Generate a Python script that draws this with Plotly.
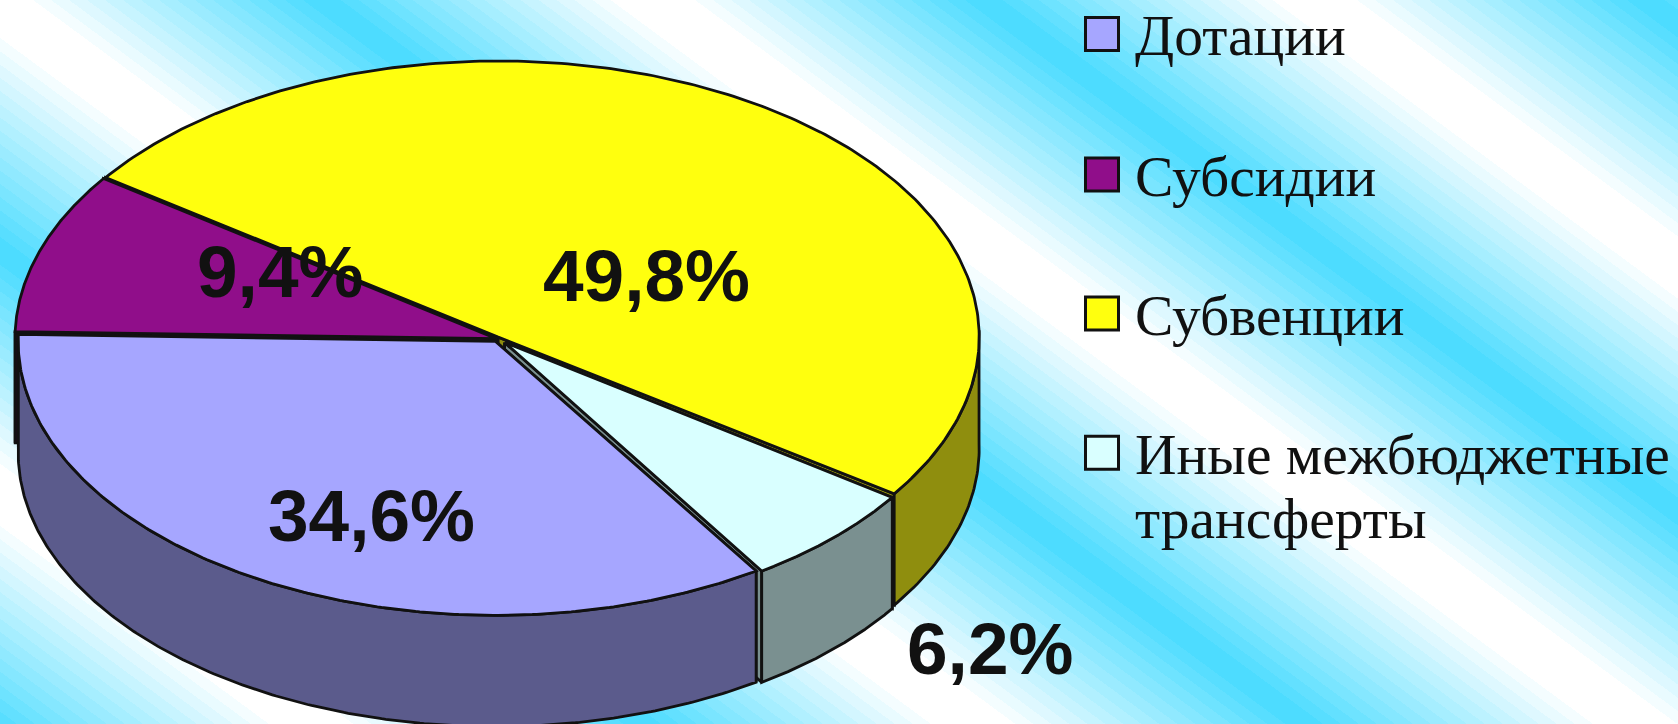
import numpy as np
import plotly.graph_objects as go

categories = ["Дотации", "Субсидии", "Субвенции", "Иные межбюджетные<br>трансферты"]
values = [34.6, 9.4, 49.8, 6.2]
labels = ["34,6%", "9,4%", "49,8%", "6,2%"]
top_colors = ["#A6A6FF", "#900E8A", "#FFFF0E", "#D9FFFF"]
side_colors = ["#5B5B8C", "#4A0846", "#8F8E0E", "#7A9090"]

W, H = 1678, 724
S = 1678 / 1568  # shrunk view to full size
INK = "#111111"
START = 303.1
DEPTH = 104 * S
# per-slice ellipse (centre x, centre y, rx, ry) in shrunk-view units
geom = [(463, 319, 446, 256), (464, 316.5, 450, 259), (465.5, 315, 449.5, 258), (471.5, 320, 440, 255)]
label_pos = [(347, 482), (262, 254), (604, 257), (925, 606)]
draw_order = [2, 1, 3, 0]

# angular extents, clockwise from the start
t1 = START - np.cumsum([0] + values[:-1]) * 3.6
t2 = t1 - np.array(values) * 3.6

fig = go.Figure()

# background: repeating diagonal banded gradient
xx, yy = np.meshgrid(np.arange(W), np.arange(H))
PERIOD, U0, SLOPE, STEPS = 662.0, 322.0, 0.737, 16
phase = ((xx - yy / SLOPE - U0) / PERIOD) % 1.0
tri = 1 - np.abs(2 * phase - 1)
level = np.clip((tri - 0.03) * 1.15, 0, 1)
z = (np.round(level * STEPS) * 10).astype(np.uint8)
fig.add_trace(go.Heatmap(z=z, x0=0.5, dx=1, y0=0.5, dy=1, zmin=0, zmax=STEPS * 10,
                         colorscale=[[0, "#4DDCFF"], [1, "#FFFFFF"]],
                         showscale=False, hoverinfo="skip"))


def ell(g, t):
    cx, cy, rx, ry = g
    r = np.radians(t)
    return (cx + rx * np.cos(r)) * S, (cy - ry * np.sin(r)) * S


def poly(x, y, color, name):
    fig.add_trace(go.Scatter(x=x, y=y, mode="lines", fill="toself", fillcolor=color,
                             line=dict(color=INK, width=2.8), name=name,
                             showlegend=False, hoverinfo="skip"))


for i in draw_order:
    g = geom[i]
    ax, ay = g[0] * S, g[1] * S
    ts = np.linspace(t1[i], t2[i], 240)
    ox, oy = ell(g, ts)
    # radial walls
    for e in (0, -1):
        poly([ax, ox[e], ox[e], ax, ax], [ay, oy[e], oy[e] + DEPTH, ay + DEPTH, ay],
             side_colors[i], categories[i])
    # outer wall, front half only
    m = np.sin(np.radians(ts)) <= 0.03
    if m.any():
        sx, sy = ox[m], oy[m]
        poly(np.r_[sx, sx[::-1], sx[0]], np.r_[sy, sy[::-1] + DEPTH, sy[0]],
             side_colors[i], categories[i])
    # top face
    poly(np.r_[ax, ox, ax], np.r_[ay, oy, ay], top_colors[i], categories[i])

# value labels
for lab, (px, py) in zip(labels, label_pos):
    fig.add_annotation(x=px * S, y=py * S, text=lab, showarrow=False,
                       font=dict(family="Liberation Sans", size=73, color=INK, weight="bold"),
                       xanchor="center", yanchor="middle")

# legend
LEG_FONT, LEG_X, BASE_TO_BOTTOM, LINE_GAP = 57.5, 1133, 16, 64
leg_box_y = [34, 174.5, 313.6, 452.7]
leg_base_y = [53.5, 193.7, 333, 472]
for c, col, by, ty in zip(categories, top_colors, leg_box_y, leg_base_y):
    fig.add_trace(go.Scatter(x=[1102], y=[by], mode="markers",
                             marker=dict(symbol="square", size=33, color=col,
                                         line=dict(color=INK, width=3)),
                             showlegend=False, hoverinfo="skip"))
    for n, part in enumerate(c.split("<br>")):
        fig.add_annotation(x=LEG_X, y=ty + BASE_TO_BOTTOM + n * LINE_GAP, text=part, showarrow=False,
                           align="left", font=dict(family="Liberation Serif", size=LEG_FONT, color=INK),
                           xanchor="left", yanchor="bottom")

fig.update_layout(width=W, height=H, margin=dict(l=0, r=0, t=0, b=0),
                  paper_bgcolor="white", plot_bgcolor="white",
                  xaxis=dict(range=[0, W], visible=False, fixedrange=True),
                  yaxis=dict(range=[H, 0], visible=False, fixedrange=True))
fig.write_html("out.html", config=dict(displayModeBar=False),
               post_script="document.body.style.margin='0';document.body.style.overflow='hidden';")
